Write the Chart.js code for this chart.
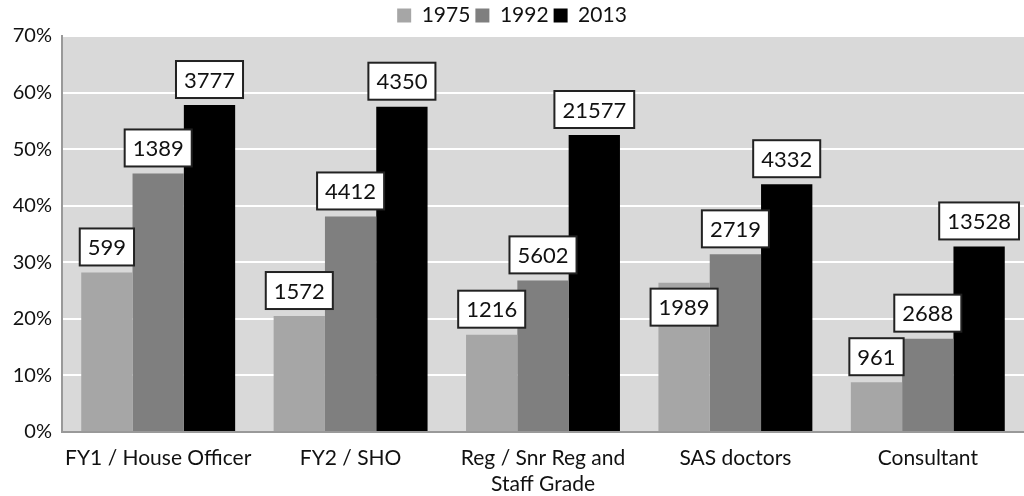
<!DOCTYPE html>
<html>
<head>
<meta charset="utf-8">
<script src="https://cdn.jsdelivr.net/npm/chart.js@4.4.0/dist/chart.umd.min.js"></script>
<style>
  html, body { margin: 0; padding: 0; background: #fff; }
  #wrap { width: 1024px; height: 496px; }
</style>
</head>
<body>
<div id="wrap"><canvas id="gradeChart" width="1024" height="496"></canvas></div>
<script>
const categories = ['FY1 / House Officer', 'FY2 / SHO', ['Reg / Snr Reg and', 'Staff Grade'], 'SAS doctors', 'Consultant'];
const years = ['1975', '1992', '2013'];
// percentages (bar heights)
const pct1975 = [28.2, 20.5, 17.2, 26.4, 8.8];
const pct1992 = [45.7, 38.1, 26.8, 31.4, 16.5];
const pct2013 = [57.8, 57.5, 52.5, 43.8, 32.8];
// counts shown in the boxes
const count1975 = [599, 1572, 1216, 1989, 961];
const count1992 = [1389, 4412, 5602, 2719, 2688];
const count2013 = [3777, 4350, 21577, 4332, 13528];
const yTicks = [0, 10, 20, 30, 40, 50, 60, 70];

const fontFamily = 'Lato, "Open Sans", sans-serif';

// draws the count in a white box above each bar
const boxLabels = {
  id: 'boxLabels',
  afterDatasetsDraw(chart) {
    const ctx = chart.ctx;
    ctx.save();
    ctx.font = '22px ' + fontFamily;
    ctx.textAlign = 'center';
    ctx.textBaseline = 'middle';
    chart.data.datasets.forEach((ds, di) => {
      const meta = chart.getDatasetMeta(di);
      meta.data.forEach((bar, i) => {
        const txt = String(ds.counts[i]);
        const w = ctx.measureText(txt).width + 16;
        const h = 37;
        let shift = 7;
        // SAS 1975 box was pushed down onto the bar in the original
        if (di === 0 && i === 3) shift = -43;
        const bottom = bar.y - shift;
        const x = bar.x - w / 2;
        ctx.fillStyle = '#fff';
        ctx.fillRect(x, bottom - h, w, h);
        ctx.lineWidth = 2;
        ctx.strokeStyle = '#222';
        ctx.strokeRect(x, bottom - h, w, h);
        ctx.fillStyle = '#111';
        ctx.fillText(txt, bar.x, bottom - h / 2 + 1);
      });
    });
    ctx.restore();
  }
};

// plot-area fill
const plotBg = {
  id: 'plotBg',
  beforeDraw(chart) {
    const a = chart.chartArea;
    chart.ctx.save();
    chart.ctx.fillStyle = '#d9d9d9';
    chart.ctx.fillRect(a.left, a.top, a.right - a.left, a.bottom - a.top);
    chart.ctx.restore();
  }
};

new Chart(document.getElementById('gradeChart').getContext('2d'), {
  type: 'bar',
  data: {
    labels: categories,
    datasets: [
      { label: years[0], data: pct1975, counts: count1975, backgroundColor: '#a6a6a6' },
      { label: years[1], data: pct1992, counts: count1992, backgroundColor: '#7f7f7f' },
      { label: years[2], data: pct2013, counts: count2013, backgroundColor: '#000000' }
    ]
  },
  options: {
    responsive: false,
    animation: false,
    layout: { padding: 0 },
    datasets: { bar: { categoryPercentage: 0.8, barPercentage: 1.0 } },
    scales: {
      x: {
        grid: { display: false },
        border: { display: true, color: '#999999', width: 2 },
        ticks: { color: '#111', font: { family: fontFamily, size: 21 }, maxRotation: 0, autoSkip: false, padding: 6 },
        afterFit(scale) { scale.height = 64; }
      },
      y: {
        min: 0,
        max: 70,
        afterBuildTicks(scale) { scale.ticks = yTicks.map(v => ({ value: v })); },
        grid: { color: '#ffffff', lineWidth: 2, drawTicks: false },
        border: { display: true, color: '#999999', width: 2 },
        ticks: {
          color: '#111',
          font: { family: fontFamily, size: 20 },
          padding: 10,
          callback: v => v + '%'
        },
        afterFit(scale) { scale.width = 62; }
      }
    },
    plugins: {
      legend: {
        position: 'top',
        labels: {
          color: '#111',
          font: { family: fontFamily, size: 21 },
          boxWidth: 14,
          boxHeight: 14,
          padding: 5
        }
      },
      tooltip: { enabled: false }
    }
  },
  plugins: [plotBg, boxLabels]
});
</script>
</body>
</html>
